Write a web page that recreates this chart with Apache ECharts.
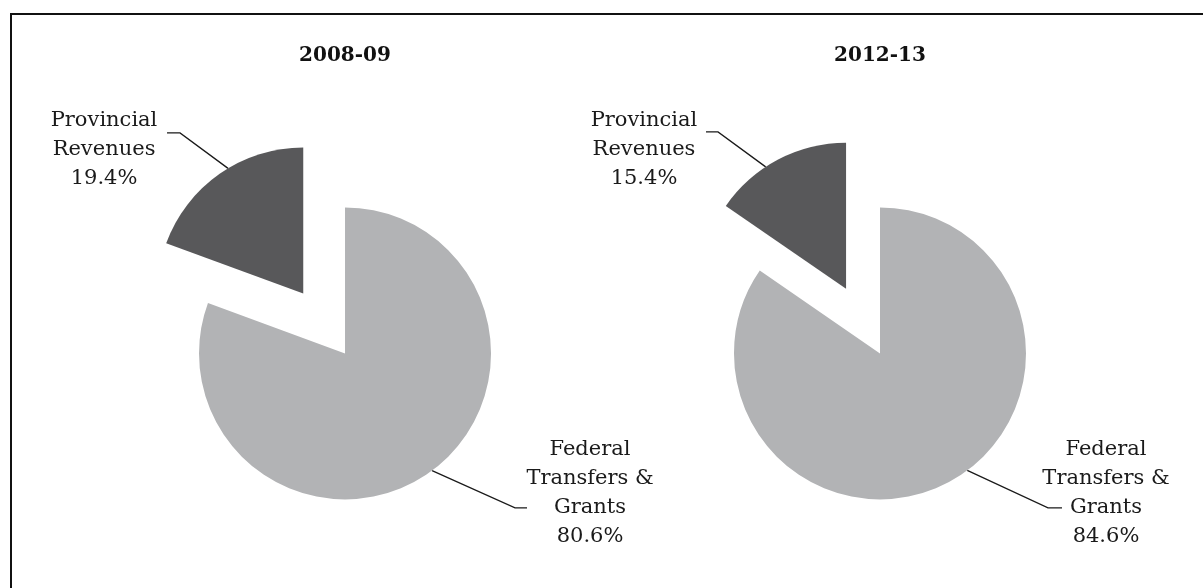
<!DOCTYPE html>
<html>
<head>
<meta charset="utf-8">
<script src="https://cdn.jsdelivr.net/npm/echarts@6/dist/echarts.min.js"></script>
<style>
html, body { margin: 0; padding: 0; background: #fff; }
#frame { position: absolute; left: 10px; top: 13px; width: 1300px; height: 700px;
  border-top: 2px solid #111; border-left: 2px solid #111; }
#chart { position: absolute; left: 0; top: 0; width: 1203px; height: 588px; }
</style>
</head>
<body>
<div id="frame"></div>
<div id="chart"></div>
<script>
// ---- data ----
const years = ['2008-09', '2012-13'];
const categories = ['Federal Transfers & Grants', 'Provincial Revenues'];
const labelNames = ['Federal\nTransfers &\nGrants', 'Provincial\nRevenues'];
const values2008 = [80.6, 19.4];
const values2012 = [84.6, 15.4];
const seriesValues = [values2008, values2012];

// ---- layout / style ----
const RADIUS = 146;
const OFFSET = 73;          // explode distance of the Provincial slice
const CY = 0.601;
const colors = ['#b2b3b5', '#58585a'];
const layouts = [
  { cx: 0.2868,
    labels: [
      { dx: 245, dy: 139.5, lineAngle: 143.4, elbow: [-75, 15], end: [-63, 15] },
      { dx: -241, dy: -203.5, lineAngle: -31, elbow: [76, -17], end: [63, -17] }
    ] },
  { cx: 0.7315,
    labels: [
      { dx: 226, dy: 139.5, lineAngle: 143.3, elbow: [-58, 15], end: [-44, 15] },
      { dx: -236, dy: -203.5, lineAngle: -33.4, elbow: [74, -18], end: [62, -18] }
    ] }
];

const chartEl = document.getElementById('chart');
const chart = echarts.init(chartEl, null, { renderer: 'canvas' });
const W = chart.getWidth(), H = chart.getHeight();

// centre of the pie, and of the exploded slice
function centers(si) {
  const vals = seriesValues[si];
  const total = vals.reduce((a, b) => a + b, 0);
  const cx = W * layouts[si].cx, cy = H * CY;
  const half = vals[1] / total * Math.PI;
  return {
    main: [cx, cy],
    exploded: [cx - OFFSET * Math.sin(half), cy - OFFSET * Math.cos(half)]
  };
}

function makeLayout(si) {
  const cfg = layouts[si];
  const c = centers(si);
  return function (params) {
    const L = cfg.labels[params.dataIndex];
    const o = params.dataIndex === 1 ? c.exploded : c.main;
    const a = L.lineAngle * Math.PI / 180;
    const start = [o[0] + RADIUS * Math.sin(a), o[1] - RADIUS * Math.cos(a)];
    const lx = c.main[0] + L.dx, ly = c.main[1] + L.dy;
    return {
      x: lx, y: ly, align: 'center', verticalAlign: 'middle',
      labelLinePoints: [start, [lx + L.elbow[0], ly + L.elbow[1]], [lx + L.end[0], ly + L.end[1]]]
    };
  };
}

const baseLabel = {
  show: true,
  position: 'outside',
  fontFamily: 'DejaVu Serif',
  fontSize: 21,
  lineHeight: 29,
  color: '#1a1a1a',
  align: 'center'
};

const series = [];
seriesValues.forEach((vals, si) => {
  const c = centers(si);
  // one pie per slice position: the visible slice is drawn, the other is invisible
  [0, 1].forEach(part => {
    series.push({
      type: 'pie',
      center: part === 1 ? c.exploded : c.main,
      radius: RADIUS,
      startAngle: 90,
      clockwise: true,
      animation: false,
      avoidLabelOverlap: false,
      emphasis: { disabled: true },
      data: vals.map((v, i) => ({
        name: categories[i],
        value: v,
        itemStyle: { color: i === part ? colors[i] : 'rgba(0,0,0,0)' },
        label: i === part
          ? { show: true, formatter: labelNames[i] + '\n' + v.toFixed(1) + '%' }
          : { show: false },
        labelLine: { show: i === part }
      })),
      label: baseLabel,
      labelLine: {
        show: true,
        length: 20,
        length2: 10,
        lineStyle: { color: '#1a1a1a', width: 1.3 }
      },
      labelLayout: makeLayout(si)
    });
  });
});

chart.setOption({
  backgroundColor: 'transparent',
  animation: false,
  title: years.map((y, i) => ({
    text: y,
    left: (layouts[i].cx * 100) + '%',
    top: 46,
    textAlign: 'center',
    padding: 0,
    textStyle: { fontFamily: 'DejaVu Serif', fontWeight: 'bold', fontSize: 20, color: '#111' }
  })),
  series: series
});
</script>
</body>
</html>
